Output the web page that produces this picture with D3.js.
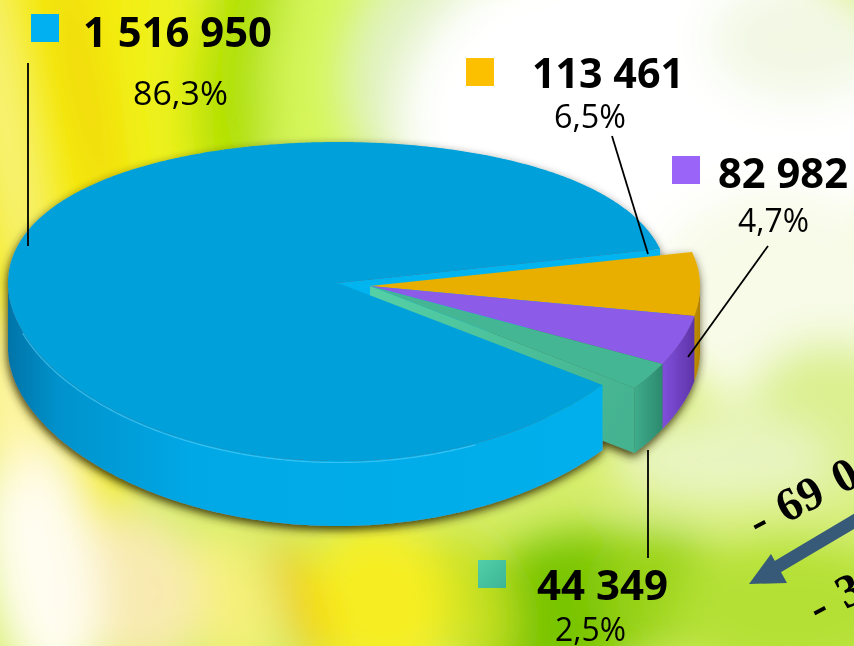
<!DOCTYPE html>
<html>
<head>
<meta charset="utf-8">
<script src="https://cdn.jsdelivr.net/npm/d3@7/dist/d3.min.js"></script>
<style>
  html, body { margin: 0; padding: 0; background: #fff; }
  svg { display: block; }
</style>
</head>
<body>
<svg id="chart" width="854" height="646"></svg>
<script>
// ---------------- DATA ----------------
const valueLabels   = ["1 516 950", "113 461", "82 982", "44 349"];
const values        = [1516950, 113461, 82982, 44349];
const percentLabels = ["86,3%", "6,5%", "4,7%", "2,5%"];
const arrowTexts    = ["- 69 0", "- 3"];

// ---------------- STYLES ----------------
const topColors    = ["#00a0da", "#e8ae00", "#8c5ce8", "#44b694"];
const legendColors = ["#00b0f0", "#fdc000", "#9a64f8", "#4cc6a4"];
const wallStops = [
  [["0", "#0074a8"], ["0.08", "#0092cc"], ["0.3", "#00a9e6"], ["1", "#00b0ec"]],
  [["0", "#c89400"], ["1", "#b08000"]],
  [["0", "#8050dc"], ["1", "#5e34a8"]],
  [["0", "#3eac8a"], ["1", "#2c8a6e"]]
];

const W = 854, H = 646;
const svg = d3.select("#chart");
const defs = svg.append("defs");

// ---------------- BACKGROUND ----------------
const blur = defs.append("filter").attr("id", "bgblur")
  .attr("filterUnits", "userSpaceOnUse")
  .attr("x", -200).attr("y", -200).attr("width", W + 400).attr("height", H + 400);
blur.append("feGaussianBlur").attr("stdDeviation", 22);

const bgClip = defs.append("clipPath").attr("id", "bgclip");
bgClip.append("rect").attr("width", W).attr("height", H);

const bg = svg.append("g").attr("clip-path", "url(#bgclip)");
bg.append("rect").attr("width", W).attr("height", H).attr("fill", "#d6ee6a");
const bgb = bg.append("g").attr("filter", "url(#bgblur)");
const blobs = [
  // cx, cy, rx, ry, rot, color
  [60, 150, 120, 420, 0, "#f4ec08"],
  [85, 90, 14, 150, -12, "#f0d000"],
  [4, 120, 12, 200, -10, "#fbf8a0"],
  [170, 80, 40, 160, 0, "#eef21a"],
  [240, 70, 45, 130, 8, "#b0e000"],
  [330, 60, 60, 120, 10, "#d6f65a"],
  [440, 70, 90, 120, 10, "#e2f2c4"],
  [660, 120, 260, 190, 0, "#ffffff"],
  [800, 40, 90, 60, 0, "#f2f8e4"],
  [780, 300, 130, 110, 0, "#f8fbe8"],
  [830, 430, 90, 90, 0, "#dcf090"],
  [720, 460, 110, 50, 0, "#e8f4c0"],
  [560, 610, 110, 75, -20, "#78c406"],
  [660, 590, 60, 60, 0, "#98d214"],
  [790, 610, 120, 70, 0, "#b4e036"],
  [470, 600, 40, 70, -20, "#c6e020"],
  [380, 600, 70, 80, -15, "#f6ee20"],
  [300, 600, 16, 70, -20, "#f2c600"],
  [230, 600, 40, 70, -15, "#f6f07a"],
  [140, 590, 60, 80, -10, "#f8eab0"],
  [40, 560, 55, 140, -10, "#fffdf0"],
  [10, 400, 25, 90, 0, "#fff6b0"]
];
bgb.selectAll("ellipse").data(blobs).join("ellipse")
  .attr("cx", d => d[0]).attr("cy", d => d[1])
  .attr("rx", d => d[2]).attr("ry", d => d[3])
  .attr("transform", d => `rotate(${d[4]},${d[0]},${d[1]})`)
  .attr("fill", d => d[5]);

// ---------------- PIE (3D) ----------------
const R = 330, A = 159.5, B = 18.5, D = 65;
const centers = [[338, 283], [370, 286], [370, 286], [370, 286]];
const groupOf = [0, 1, 1, 1];

const total = d3.sum(values);
const blueFrac = values[0] / total;
const orangeStartScreen = -12.6 * Math.PI / 180;
const d3Start = orangeStartScreen + Math.PI / 2 + 2 * Math.PI - 2 * Math.PI * blueFrac;
const pie = d3.pie().sort(null).startAngle(d3Start).endAngle(d3Start + 2 * Math.PI);
const arcs = pie(values).map((a, i) => ({
  i, ts: a.startAngle - Math.PI / 2, te: a.endAngle - Math.PI / 2
}));

function P(i, r, th, h) {
  const [cx, cy] = centers[i];
  const u = r * Math.cos(th), v = r * Math.sin(th);
  return [cx + R * u, cy + A * v + B * v * v + (h || 0)];
}
function samples(t0, t1) {
  const n = Math.max(2, Math.ceil(Math.abs(t1 - t0) / 0.01));
  return d3.range(n + 1).map(k => t0 + (t1 - t0) * k / n);
}
const lineGen = d3.line();

// shadow filter
const sh = defs.append("filter").attr("id", "shadow")
  .attr("x", "-10%").attr("y", "-10%").attr("width", "120%").attr("height", "130%");
sh.append("feDropShadow").attr("dx", -1).attr("dy", 4).attr("stdDeviation", 5)
  .attr("flood-color", "#302800").attr("flood-opacity", 0.9);

// wall gradients
arcs.forEach(a => {
  const g = defs.append("linearGradient").attr("id", "wall" + a.i)
    .attr("gradientUnits", "userSpaceOnUse");
  if (a.i === 0) {
    g.attr("x1", centers[0][0] - R).attr("x2", centers[0][0] + R * 0.9).attr("y1", 0).attr("y2", 0);
  } else {
    const xs = samples(Math.max(a.ts, 0), a.te).map(t => P(a.i, 1, t)[0]);
    g.attr("x1", d3.min(xs)).attr("x2", d3.max(xs)).attr("y1", 0).attr("y2", 0);
  }
  wallStops[a.i].forEach(s => g.append("stop").attr("offset", s[0]).attr("stop-color", s[1]));
});
const tealFace = defs.append("linearGradient").attr("id", "tealface")
  .attr("gradientUnits", "userSpaceOnUse")
  .attr("x1", centers[3][0]).attr("y1", centers[3][1]).attr("x2", 640).attr("y2", 400);
tealFace.append("stop").attr("offset", "0").attr("stop-color", "#54d0a6");
tealFace.append("stop").attr("offset", "1").attr("stop-color", "#44b290");

const pieG = svg.append("g").attr("filter", "url(#shadow)");

// 1. visible radial cut faces (only at the gap between exploded groups)
const faces = [];
arcs.forEach((a, k) => {
  const next = arcs[(k + 1) % arcs.length], prev = arcs[(k - 1 + arcs.length) % arcs.length];
  if (Math.cos(a.te) > 0 && groupOf[next.i] !== groupOf[a.i]) faces.push({ i: a.i, t: a.te });
  if (Math.cos(a.ts) < 0 && groupOf[prev.i] !== groupOf[a.i]) faces.push({ i: a.i, t: a.ts });
});
pieG.selectAll("path.face").data(faces).join("path").attr("class", "face")
  .attr("d", f => lineGen([P(f.i, 0, f.t, 0), P(f.i, 1, f.t, 0), P(f.i, 1, f.t, D), P(f.i, 0, f.t, D)]) + "Z")
  .attr("fill", f => f.i === 0 ? "#00b4f0" : "url(#tealface)");

// 2. outer walls (front facing part)
const walls = [];
arcs.forEach(a => {
  for (let k = -1; k <= 1; k++) {
    const lo = Math.max(a.ts, 2 * Math.PI * k), hi = Math.min(a.te, 2 * Math.PI * k + Math.PI);
    if (hi > lo) walls.push({ i: a.i, lo, hi });
  }
});
pieG.selectAll("path.wall").data(walls).join("path").attr("class", "wall")
  .attr("d", w => {
    const ts = samples(w.lo, w.hi);
    const pts = ts.map(t => P(w.i, 1, t, 0)).concat(ts.slice().reverse().map(t => P(w.i, 1, t, D)));
    return lineGen(pts) + "Z";
  })
  .attr("fill", w => `url(#wall${w.i})`);

// 3. tops
pieG.selectAll("path.top").data(arcs).join("path").attr("class", "top")
  .attr("d", a => lineGen([P(a.i, 0, 0, 0)].concat(samples(a.ts, a.te).map(t => P(a.i, 1, t, 0)))) + "Z")
  .attr("fill", a => topColors[a.i]);

// rim highlight on the blue front
const hl = walls.filter(w => w.i === 0);
pieG.selectAll("path.hl").data(hl).join("path").attr("class", "hl")
  .attr("d", w => lineGen(samples(w.lo + 0.5, w.hi - 0.3).map(t => P(0, 1, t, 1.5))))
  .attr("fill", "none").attr("stroke", "#48ccf8").attr("stroke-width", 1.2).attr("opacity", 0.7);

// ---------------- LEADER LINES ----------------
const leaders = [
  [[28, 63], [28, 246]],
  [[612, 136], [648, 254]],
  [[768, 246], [688, 357]],
  [[648, 450], [648, 558]]
];
svg.append("g").selectAll("path").data(leaders).join("path")
  .attr("d", d => lineGen(d)).attr("stroke", "#000").attr("stroke-width", 1.8).attr("fill", "none");

// ---------------- LABELS ----------------
const legendPos = [[31, 14], [466, 58], [672, 156], [478, 560]];
const valuePos  = [[83, 47, 189], [532, 88, 152], [718, 188, 130], [537, 600, 131]];
const pctPos    = [[133, 105, 95], [554, 128, 72], [738, 232, 71], [555, 641, 71]];

const lab = svg.append("g");
const sqGrad = defs.append("linearGradient").attr("id", "sqteal").attr("x1", 0).attr("y1", 0).attr("x2", 1).attr("y2", 1);
sqGrad.append("stop").attr("offset", "0").attr("stop-color", "#52d0a8");
sqGrad.append("stop").attr("offset", "1").attr("stop-color", "#3cb494");
lab.selectAll("rect").data(legendColors).join("rect")
  .attr("x", (d, i) => legendPos[i][0]).attr("y", (d, i) => legendPos[i][1])
  .attr("width", 28).attr("height", 28)
  .attr("fill", (d, i) => i === 3 ? "url(#sqteal)" : d);

lab.selectAll("text.val").data(valueLabels).join("text").attr("class", "val")
  .attr("x", (d, i) => valuePos[i][0]).attr("y", (d, i) => valuePos[i][1])
  .attr("textLength", (d, i) => valuePos[i][2]).attr("lengthAdjust", "spacingAndGlyphs")
  .attr("font-family", "'Open Sans', 'Noto Sans', sans-serif").attr("font-weight", 700)
  .attr("font-size", 41).attr("fill", "#000").text(d => d);

lab.selectAll("text.pct").data(percentLabels).join("text").attr("class", "pct")
  .attr("x", (d, i) => pctPos[i][0]).attr("y", (d, i) => pctPos[i][1])
  .attr("textLength", (d, i) => pctPos[i][2]).attr("lengthAdjust", "spacingAndGlyphs")
  .attr("font-family", "'Open Sans', 'Noto Sans', sans-serif").attr("font-weight", 400)
  .attr("font-size", 32).attr("fill", "#000").text(d => d);

// ---------------- ARROW ----------------
const arrowG = svg.append("g").attr("clip-path", "url(#bgclip)");
arrowG.append("path").attr("d", lineGen([[772, 570], [880, 506]]))
  .attr("stroke", "#365a78").attr("stroke-width", 13).attr("fill", "none");
arrowG.append("path").attr("d", lineGen([[749, 584], [771, 554], [787, 583]]) + "Z")
  .attr("fill", "#365a78");

const arrowTextPos = [[758, 538], [818, 624]];
arrowG.selectAll("text").data(arrowTexts).join("text")
  .attr("transform", (d, i) => `translate(${arrowTextPos[i][0]},${arrowTextPos[i][1]}) rotate(-27.5)`)
  .attr("font-family", "'Liberation Serif', 'DejaVu Serif', serif").attr("font-weight", 700)
  .attr("font-size", 47).attr("word-spacing", 4).attr("fill", "#000").text(d => d);
</script>
</body>
</html>
